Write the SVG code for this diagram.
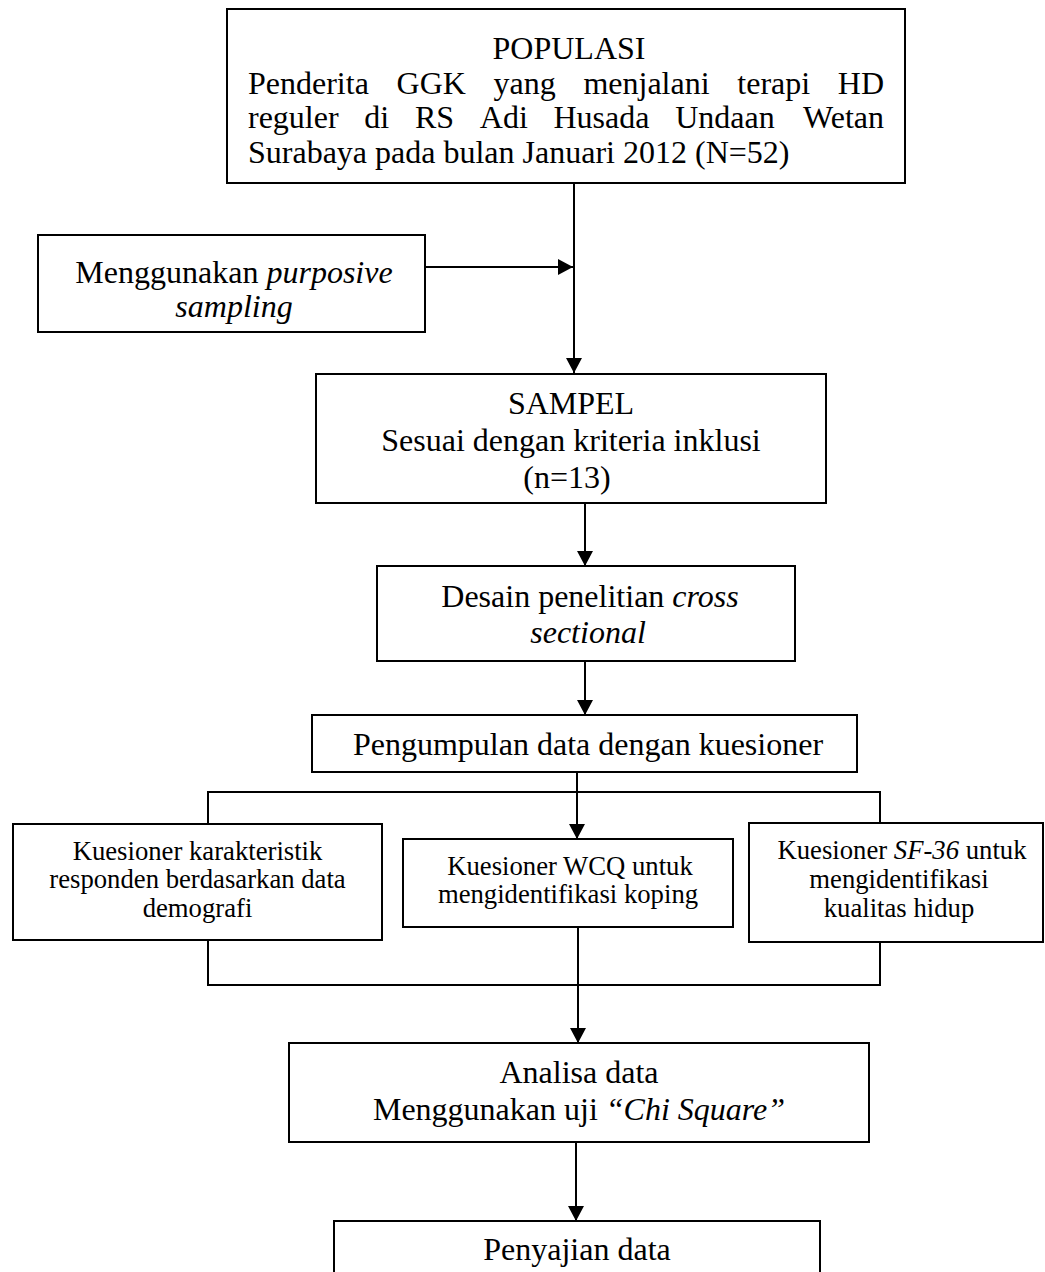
<svg xmlns="http://www.w3.org/2000/svg" width="1045" height="1272" viewBox="0 0 1045 1272">
<defs>
<marker id="ah" markerUnits="userSpaceOnUse" markerWidth="16" markerHeight="16" refX="15" refY="8" orient="auto">
<path d="M0,0 L15,8 L0,16 z" fill="#000"/>
</marker>
<style>
.box{fill:#fff;stroke:#000;stroke-width:2}
.t{font-family:"Liberation Serif","Times New Roman",serif;font-size:32px;fill:#000}
.s{font-family:"Liberation Serif","Times New Roman",serif;font-size:26.7px;fill:#000}
.c{text-anchor:middle}
.i{font-style:italic}
.ln{fill:none;stroke:#000;stroke-width:2}
.ar{fill:none;stroke:#000;stroke-width:2;marker-end:url(#ah)}
</style>
</defs>
<g id="connectors">
<path class="ar" d="M574,183 V373"/>
<path class="ar" d="M425,267 H573"/>
<path class="ar" d="M585,503 V566"/>
<path class="ar" d="M585,661 V715"/>
<path class="ar" d="M577,772 V839"/>
<path class="ln" d="M208,824 V792 H880 V823"/>
<path class="ln" d="M208,940 V985 H880 V942"/>
<path class="ar" d="M578,927 V1043"/>
<path class="ar" d="M576,1142 V1221"/>
</g>
<g id="populasi">
<rect class="box" x="227" y="9" width="678" height="174"/>
<text class="t c" x="569" y="59">POPULASI</text>
<text class="t" y="94"><tspan x="248">Penderita</tspan><tspan x="396.6">GGK</tspan><tspan x="493.5">yang</tspan><tspan x="583.4">menjalani</tspan><tspan x="737.3">terapi</tspan></text>
<text class="t" x="884" y="94" text-anchor="end">HD</text>
<text class="t" y="128"><tspan x="248">reguler</tspan><tspan x="364.3">di</tspan><tspan x="414.9">RS</tspan><tspan x="479.8">Adi</tspan><tspan x="553.5">Husada</tspan><tspan x="675.2">Undaan</tspan></text>
<text class="t" x="884" y="128" text-anchor="end">Wetan</text>
<text class="t" x="248" y="163">Surabaya pada bulan Januari 2012 (N=52)</text>
</g>
<g id="purposive">
<rect class="box" x="38" y="235" width="387" height="97"/>
<text class="t c" x="234" y="283">Menggunakan <tspan class="i">purposive</tspan></text>
<text class="t c i" x="234" y="317">sampling</text>
</g>
<g id="sampel">
<rect class="box" x="316" y="374" width="510" height="129"/>
<text class="t c" x="571" y="414">SAMPEL</text>
<text class="t c" x="571" y="451">Sesuai dengan kriteria inklusi</text>
<text class="t c" x="567" y="488">(n=13)</text>
</g>
<g id="desain">
<rect class="box" x="377" y="566" width="418" height="95"/>
<text class="t c" x="590" y="607">Desain penelitian <tspan class="i">cross</tspan></text>
<text class="t c i" x="588" y="643">sectional</text>
</g>
<g id="pengumpulan">
<rect class="box" x="312" y="715" width="545" height="57"/>
<text class="t c" x="588" y="755">Pengumpulan data dengan kuesioner</text>
</g>
<g id="karakteristik">
<rect class="box" x="13" y="824" width="369" height="116"/>
<text class="s c" x="197.5" y="860">Kuesioner karakteristik</text>
<text class="s c" x="197.5" y="888">responden berdasarkan data</text>
<text class="s c" x="197.5" y="917">demografi</text>
</g>
<g id="wcq">
<rect class="box" x="403" y="839" width="330" height="88"/>
<text class="s c" x="570" y="875">Kuesioner WCQ untuk</text>
<text class="s c" x="568" y="903">mengidentifikasi koping</text>
</g>
<g id="sf36">
<rect class="box" x="749" y="823" width="294" height="119"/>
<text class="s c" x="902" y="859">Kuesioner <tspan class="i">SF-36</tspan> untuk</text>
<text class="s c" x="899" y="888">mengidentifikasi</text>
<text class="s c" x="899" y="917">kualitas hidup</text>
</g>
<g id="analisa">
<rect class="box" x="289" y="1043" width="580" height="99"/>
<text class="t c" x="579" y="1083">Analisa data</text>
<text class="t c" x="579" y="1120">Menggunakan uji <tspan class="i">“Chi Square”</tspan></text>
</g>
<g id="penyajian">
<rect class="box" x="334" y="1221" width="486" height="80"/>
<text class="t c" x="577" y="1260">Penyajian data</text>
</g>
</svg>
